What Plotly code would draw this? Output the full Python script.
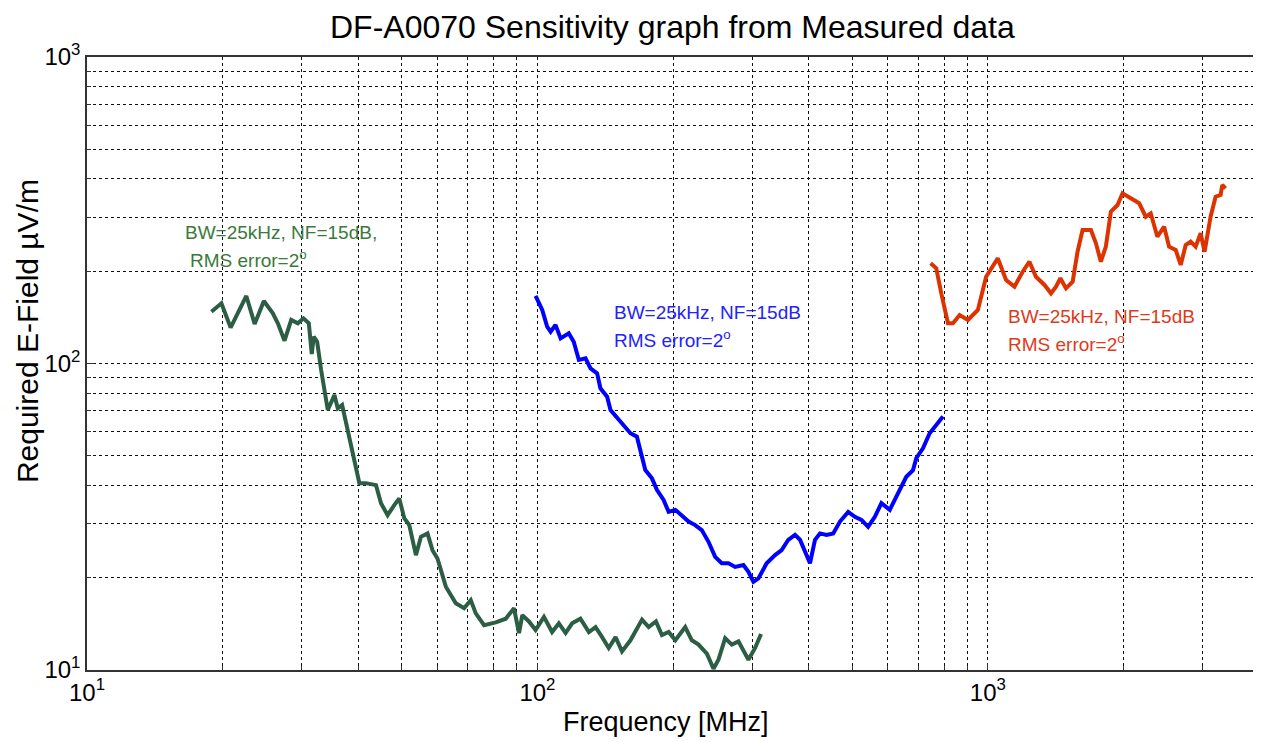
import plotly.graph_objects as go
import math

# ---------------- data (frequency MHz, required E-field uV/m) ----------------
green_f = [18.89, 19.88, 20.84, 22.58, 23.56, 24.70, 25.86, 26.53, 27.45, 28.41,
           29.38, 30.24, 31.08, 31.55, 31.87, 32.43, 33.10, 34.24, 35.43, 36.03,
           36.85, 37.91, 38.89, 40.25, 41.65, 43.82, 44.95, 46.49, 48.11, 49.35,
           50.63, 51.94, 53.74, 55.13, 57.02, 58.48, 59.99, 62.62, 65.89, 68.74,
           71.14, 72.97, 76.13, 80.82, 85.06, 88.72, 91.02, 92.57, 95.76, 99.08,
           103.4, 107.8, 111.6, 115.5, 119.4, 124.6, 130.1, 134.6, 139.2, 144.0,
           149.1, 154.1, 160.9, 170.7, 176.6, 183.3, 189.0, 195.6, 202.4, 212.9,
           220.2, 227.9, 237.8, 246.0, 252.3, 261.1, 270.1, 279.5, 294.1, 304.3,
           313.7]
green_e = [147.6, 157.2, 130.9, 166.1, 134.6, 159.9, 145.8, 135.3, 118.7, 138.7,
           135.3, 140.4, 135.3, 107.4, 122.3, 117.8, 95.2, 70.5, 78.9, 71.4,
           73.2, 60.7, 49.6, 40.7, 40.7, 40.1, 35.0, 32.0, 34.5, 36.3,
           31.3, 29.7, 23.7, 27.2, 27.9, 24.6, 23.1, 18.7, 16.5, 15.9,
           16.9, 15.3, 14.0, 14.3, 14.7, 15.9, 13.2, 15.1, 14.4, 13.5,
           14.9, 13.3, 14.2, 13.2, 14.2, 14.7, 13.3, 13.8, 12.8, 11.8,
           12.8, 11.5, 12.5, 14.6, 13.8, 14.4, 13.0, 13.3, 12.5, 13.8,
           12.5, 12.1, 11.3, 10.1, 10.8, 12.7, 12.1, 12.4, 10.8, 11.8,
           13.1]

blue_f = [99.08, 102.5, 105.1, 107.0, 109.7, 112.6, 117.4, 120.4, 123.6, 127.9,
          131.2, 135.7, 138.0, 142.8, 145.3, 151.6, 156.8, 160.9, 166.3, 169.3,
          173.6, 179.6, 184.2, 190.6, 195.6, 202.4, 209.3, 216.6, 224.0, 231.7,
          239.8, 248.1, 256.6, 265.6, 274.8, 286.7, 294.1, 301.7, 309.5, 322.8,
          337.0, 348.5, 360.6, 373.2, 382.8, 402.9, 413.3, 424.0, 438.5, 453.7,
          469.5, 489.8, 506.8, 524.1, 542.3, 561.2, 580.4, 605.8, 626.5, 659.2,
          682.2, 693.8, 717.8, 742.8, 768.3, 795.0]
blue_e = [166.1, 149.5, 131.9, 127.0, 133.6, 120.8, 125.5, 117.8, 102.7, 104.0,
          96.4, 92.9, 83.0, 77.9, 70.5, 65.4, 61.5, 59.2, 57.7, 51.6,
          44.9, 42.2, 38.7, 35.9, 32.8, 33.3, 32.0, 30.5, 29.7, 28.6,
          26.2, 23.4, 22.3, 22.3, 21.7, 22.0, 20.9, 19.4, 19.9, 22.3,
          23.7, 24.6, 26.6, 27.6, 26.6, 22.3, 26.6, 27.9, 27.6, 27.9,
          30.5, 32.8, 31.6, 30.9, 29.3, 31.6, 35.0, 33.3, 36.8, 42.7,
          44.9, 49.1, 52.9, 59.2, 63.0, 67.1]

red_f = [746.6, 768.3, 788.3, 815.7, 836.8, 865.8, 903.3, 950.4, 991.3, 1052,
         1098, 1146, 1195, 1237, 1279, 1336, 1381, 1417, 1449, 1491,
         1543, 1582, 1623, 1694, 1738, 1782, 1828, 1876, 1941, 1991,
         2077, 2168, 2242, 2300, 2379, 2463, 2526, 2613, 2681, 2750,
         2821, 2893, 2968, 3029, 3123, 3204, 3287, 3315, 3372]
red_e = [212.3, 204.5, 169.4, 135.3, 135.3, 143.9, 138.7, 149.5, 191.9, 220.4,
         187.3, 178.1, 199.3, 214.8, 191.9, 180.4, 169.4, 178.1, 189.7, 175.9,
         184.9, 231.6, 272.7, 272.7, 246.7, 214.8, 240.5, 312.8, 328.9, 359.2,
         345.9, 333.2, 301.3, 309.0, 259.3, 279.4, 240.5, 234.6, 209.6, 243.6,
         249.7, 240.5, 266.0, 231.6, 301.3, 350.1, 354.6, 382.3, 372.9]

x_major = [10, 100, 1000]
y_major = [10, 100, 1000]
x_minor = [m * d for d in (10, 100, 1000) for m in range(2, 10)]
y_minor = [m * d for d in (10, 100) for m in range(2, 10)]

title_text = "DF-A0070 Sensitivity graph from Measured data"
xlabel = "Frequency [MHz]"
ylabel = "Required E-Field µV/m"
ann_line1_green = "BW=25kHz, NF=15dB,"
ann_line1 = "BW=25kHz, NF=15dB"
ann_line2 = "RMS error=2<sup>o</sup>"

C_GREEN = "#2b5e45"
C_BLUE = "#0000ff"
C_RED = "#dd3300"

FONT = "Arial, Liberation Sans, Helvetica, sans-serif"


def sup_label(v):
    return "10<sup>%d</sup>" % round(math.log10(v))


fig = go.Figure()
for f, e, c in ((green_f, green_e, C_GREEN), (blue_f, blue_e, C_BLUE), (red_f, red_e, C_RED)):
    fig.add_trace(go.Scatter(x=f, y=e, mode="lines", line=dict(color=c, width=4),
                             showlegend=False, hoverinfo="skip"))

# page body has an 8px margin: figure starts at (8, 8) in the window
OFF = 8
W, H = 1253, 734
L, R, T, B = 87 - OFF, 0, 57 - OFF, 72

GRID = dict(showgrid=True, gridcolor="#111111", gridwidth=1, griddash="3px,3px")

axis_common = dict(
    type="log", showline=True, linecolor="#333333", linewidth=1.5, mirror=True,
    ticks="inside", ticklen=7, tickcolor="#333333", zeroline=False,
    tickfont=dict(family=FONT, size=24, color="#000000"), **GRID,
)

fig.update_xaxes(range=[1, math.log10(4000)], tickvals=x_major,
                 ticktext=[sup_label(v) for v in x_major],
                 minor=dict(tickvals=x_minor, ticks="inside", ticklen=4,
                            tickcolor="#333333", **GRID),
                 **axis_common)
fig.update_yaxes(range=[1, 3], tickvals=y_major,
                 ticktext=[sup_label(v) for v in y_major],
                 minor=dict(tickvals=y_minor, ticks="inside", ticklen=4,
                            tickcolor="#333333", **GRID),
                 **axis_common)


def px_x(p):
    return (p - OFF - L) / (W - L - R)


def px_y(p):
    return (H - B - (p - OFF)) / (H - B - T)


annotations = [
    dict(text=title_text, x=px_x(673), y=px_y(27), font=dict(size=32)),
    dict(text=xlabel, x=px_x(667), y=px_y(722), font=dict(size=27)),
    dict(text=ylabel, x=px_x(27), y=px_y(331), font=dict(size=30), textangle=-90),
    dict(text=ann_line1_green, x=px_x(183), y=px_y(232), xanchor="left", font=dict(size=19, color="#3a7a3a")),
    dict(text=ann_line2, x=px_x(188), y=px_y(259), xanchor="left", font=dict(size=19, color="#3a7a3a")),
    dict(text=ann_line1, x=px_x(613), y=px_y(312), xanchor="left", font=dict(size=19, color="#2222ff")),
    dict(text=ann_line2, x=px_x(613), y=px_y(339), xanchor="left", font=dict(size=19, color="#2222ff")),
    dict(text=ann_line1, x=px_x(1008), y=px_y(316), xanchor="left", font=dict(size=19, color="#e03a1a")),
    dict(text=ann_line2, x=px_x(1008), y=px_y(343), xanchor="left", font=dict(size=19, color="#e03a1a")),
]
for a in annotations:
    a.setdefault("xanchor", "center")
    a.update(xref="paper", yref="paper", yanchor="middle", showarrow=False)
    a["font"].setdefault("color", "#000000")
    a["font"]["family"] = FONT

fig.update_layout(
    width=W, height=H, margin=dict(l=L, r=R, t=T, b=B, pad=0),
    paper_bgcolor="white", plot_bgcolor="white",
    annotations=annotations,
    font=dict(family=FONT, color="#000000"),
)

fig.write_html("out.html")
